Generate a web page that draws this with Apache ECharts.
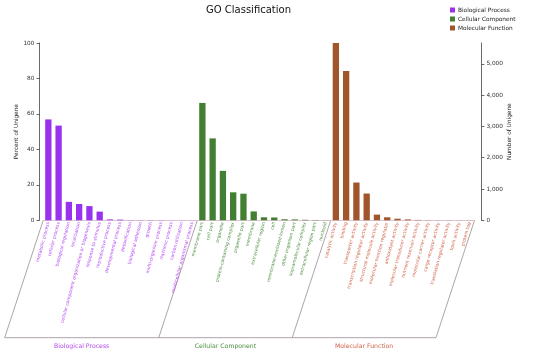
<!DOCTYPE html>
<html><head><meta charset="utf-8">
<script src="https://cdn.jsdelivr.net/npm/echarts@6/dist/echarts.min.js"></script>
<style>html,body{margin:0;padding:0;background:#fff}#c{width:550px;height:353px}</style>
</head><body><div id="c"></div>
<script>
const bpCategories = ['metabolic process','cellular process','biological regulation','localization','cellular component organization or biogenesis','response to stimulus','reproductive process','developmental process','detoxification','biological adhesion','growth','multi-organism process','rhythmic process','carbon utilization','multicellular organismal process'];
const bpPercent = [56.9, 53.4, 10.4, 9.2, 8.0, 4.9, 0.5, 0.4, 0.1, 0.1, 0.1, 0.1, 0.05, 0.05, 0.05];
const ccCategories = ['membrane part','cell part','organelle','protein-containing complex','organelle part','membrane','extracellular region','cell','membrane-enclosed lumen','other organism part','supramolecular complex','extracellular region part','nucleoid'];
const ccPercent = [66.2, 46.2, 27.9, 15.8, 15.0, 5.0, 1.7, 1.6, 0.6, 0.5, 0.3, 0.2, 0.1];
const mfCategories = ['catalytic activity','binding','transporter activity','transcription regulator activity','structural molecule activity','molecular function regulator','antioxidant activity','molecular transducer activity','nutrient reservoir activity','molecular carrier activity','cargo receptor activity','translation regulator activity','toxin activity','protein tag'];
const mfPercent = [100, 84.2, 21.3, 15.1, 3.2, 1.7, 0.9, 0.5, 0.2, 0.1, 0.05, 0.05, 0.05, 0.05];
const groupNames = ['Biological Process','Cellular Component','Molecular Function'];
const percentTicks = [0, 20, 40, 60, 80, 100];
const totalUnigenes = 5665;
const countTicks = [0, 1000, 2000, 3000, 4000, 5000];

const barColors = ['#9932ee', '#437f32', '#a0552b'];
const labelColors = ['#b448ee', '#4f9040', '#d0654a'];
const FONT = 'DejaVu Sans';

const categories = bpCategories.concat(ccCategories, mfCategories);
const groupSizes = [bpCategories.length, ccCategories.length, mfCategories.length];
const groupOf = [];
groupSizes.forEach((n, g) => { for (let i = 0; i < n; i++) groupOf.push(g); });
function padded(values, g) {
  const out = [];
  let start = 0; for (let k = 0; k < g; k++) start += groupSizes[k];
  for (let i = 0; i < categories.length; i++) {
    const j = i - start;
    out.push(j >= 0 && j < values.length ? values[j] : '-');
  }
  return out;
}
const groupValues = [bpPercent, ccPercent, mfPercent];

const chart = echarts.init(document.getElementById('c'), null, {renderer: 'canvas'});
const option = {
  animation: false,
  backgroundColor: '#fff',
  textStyle: {fontFamily: FONT},
  title: {text: 'GO Classification', left: 206, top: 5, padding: 0,
    textStyle: {fontFamily: FONT, fontSize: 10, fontWeight: 'normal', color: '#111'}},
  legend: {orient: 'vertical', left: 450, top: 7, padding: 0, itemWidth: 5, itemHeight: 5, itemGap: 3,
    icon: 'rect', data: groupNames,
    textStyle: {fontFamily: FONT, fontSize: 5.8, color: '#222', padding: [0,0,0,-2]}},
  grid: {left: 43.2, right: 75.5, top: 43, bottom: 132.7, containLabel: false},
  xAxis: {type: 'category', data: categories, boundaryGap: true,
    axisLine: {show: true, lineStyle: {color: '#d8b8c8', width: 0.8}},
    axisTick: {show: false},
    axisLabel: {interval: 0, rotate: 75, margin: 2, fontSize: 4.5, fontFamily: FONT,
      color: (v, i) => labelColors[groupOf[i]]}},
  yAxis: [
    {type: 'value', min: 0, max: 100, interval: 20, offset: 3.7, position: 'left',
      name: 'Percent of Unigene', nameLocation: 'middle', nameRotate: 90, nameGap: 20,
      nameMoveOverlap: false,
      nameTextStyle: {fontFamily: FONT, fontSize: 5.8, color: '#222'},
      axisLine: {show: true, lineStyle: {color: '#444', width: 0.8}},
      axisTick: {show: true, length: 3, lineStyle: {color: '#444', width: 0.8}},
      axisLabel: {fontSize: 5.8, fontFamily: FONT, color: '#333', margin: 5,
        customValues: percentTicks},
      splitLine: {show: false}},
    {type: 'value', min: 0, max: totalUnigenes, position: 'right', offset: 6.9,
      name: 'Number of Unigene', nameLocation: 'middle', nameRotate: 90, nameGap: 25.5,
      nameMoveOverlap: false,
      nameTextStyle: {fontFamily: FONT, fontSize: 5.8, color: '#222'},
      axisLine: {show: true, lineStyle: {color: '#444', width: 0.8}},
      axisTick: {show: true, length: 3, customValues: countTicks, lineStyle: {color: '#444', width: 0.8}},
      axisLabel: {fontSize: 5.8, fontFamily: FONT, color: '#333', margin: 5,
        customValues: countTicks, formatter: v => Number(v).toLocaleString('en-US')},
      splitLine: {show: false}}
  ],
  series: groupNames.map((name, g) => ({
    name, type: 'bar', yAxisIndex: 0, barWidth: 6.3, barGap: '-100%',
    itemStyle: {color: barColors[g]},
    data: padded(groupValues[g], g)
  }))
};
chart.setOption(option);

// Frame below the category labels, derived from the axis scale
const x0 = chart.convertToPixel({xAxisIndex: 0}, 0);
const x1 = chart.convertToPixel({xAxisIndex: 0}, 1);
const slot = x1 - x0;
const axisY = chart.convertToPixel({yAxisIndex: 0}, 0);
const bottomY = 337.7, shift = -38.5;
const bounds = [0];
groupSizes.forEach(n => bounds.push(bounds[bounds.length - 1] + n));
const bx = bounds.map(b => x0 - slot / 2 + b * slot);
const graphics = [];
bx.forEach(x => graphics.push({type: 'line', silent: true,
  shape: {x1: x, y1: axisY, x2: x + shift, y2: bottomY},
  style: {stroke: '#9a8c94', lineWidth: 0.8}}));
graphics.push({type: 'line', silent: true,
  shape: {x1: bx[0] + shift, y1: bottomY, x2: bx[bx.length - 1] + shift, y2: bottomY},
  style: {stroke: '#9a8c94', lineWidth: 0.8}});
groupNames.forEach((name, g) => {
  const cx = (bx[g] + bx[g + 1]) / 2 + shift;
  graphics.push({type: 'text', silent: true, x: cx, y: 346.5,
    style: {text: name, fill: labelColors[g], font: '6.2px "DejaVu Sans"', align: 'center', verticalAlign: 'middle'}});
});
chart.setOption({graphic: graphics});
</script>
</body></html>
